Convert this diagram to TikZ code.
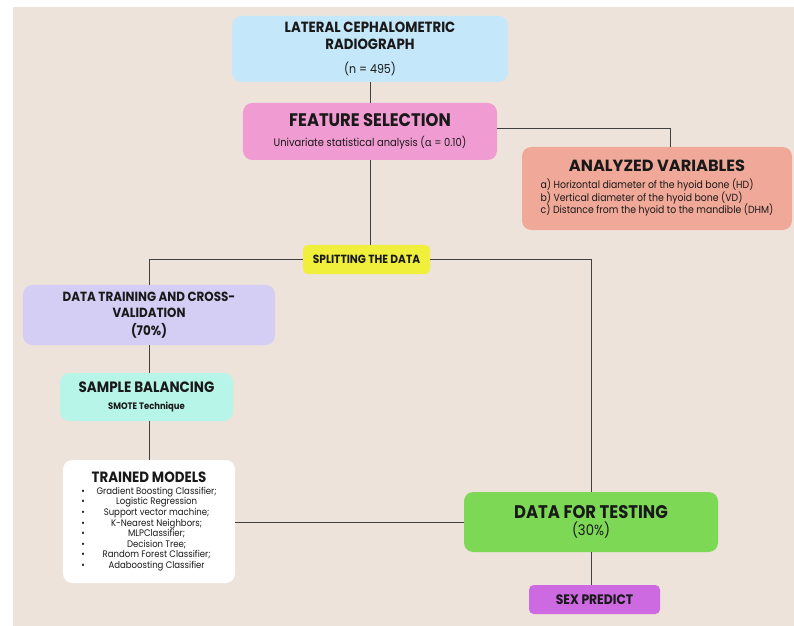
\documentclass[tikz,border=0pt]{standalone}
\usepackage{fontspec}
\setmainfont{Poppins}
\newfontfamily\condfont[FakeStretch=0.9]{Poppins}
\newfontfamily\greekfont{Noto Sans}
\usetikzlibrary{positioning,calc}
\definecolor{paper}{RGB}{237,227,218}
\definecolor{radio}{RGB}{197,231,250}
\definecolor{featpink}{RGB}{240,156,210}
\definecolor{varsalmon}{RGB}{240,168,152}
\definecolor{splityellow}{RGB}{240,240,60}
\definecolor{trainlav}{RGB}{212,206,245}
\definecolor{smotemint}{RGB}{183,245,232}
\definecolor{testgreen}{RGB}{125,216,85}
\definecolor{sexpurple}{RGB}{205,105,225}
% text sizes
\newcommand\headtxt[2]{{\fontsize{#1}{#1}\selectfont\bfseries #2}}
\newcommand\subtxt[2]{{\fontsize{#1}{#1}\selectfont #2}}

\begin{document}
\begin{tikzpicture}[x=0.03cm,y=-0.03cm,
    stage/.style={rounded corners=8pt,inner sep=2pt,align=center,text=black!90,font=\condfont},
    link/.style={draw=black!75,line width=0.6pt}
  ]
    % page
    \fill[white] (0,0) rectangle (794,626);
    \fill[paper] (13,7) rectangle (794,626);

    \node[stage,fill=radio,minimum width=8.28cm,minimum height=1.98cm] (lat) at (370,49)
      {\headtxt{12.6}{LATERAL CEPHALOMETRIC}\\[2pt]\headtxt{12.6}{RADIOGRAPH}\\[9pt]\subtxt{10.5}{(n = 495)}};
    \node[stage,fill=featpink,minimum width=7.62cm,minimum height=1.71cm] (feat) at (370,131.5)
      {\headtxt{15.5}{FEATURE SELECTION}\\[5pt]\subtxt{9.4}{Univariate statistical analysis ({\greekfont α} = 0.10)}};
    \node[stage,fill=varsalmon,minimum width=8.1cm,minimum height=2.49cm] (vars) at (657,188.5)
      {\headtxt{13.8}{\normalfont\bfseries ANALYZED VARIABLES}\\[5pt]
       \subtxt{8.85}{\begin{tabular}{@{}l@{}}
         a) Horizontal diameter of the hyoid bone (HD)\\
         b) Vertical diameter of the hyoid bone (VD)\\
         c) Distance from the hyoid to the mandible (DHM)
       \end{tabular}}};
    \node[stage,fill=splityellow,rounded corners=4pt,minimum width=3.81cm,minimum height=0.87cm] (split) at (366.5,259.5)
      {\headtxt{10.1}{SPLITTING THE DATA}};
    \node[stage,fill=trainlav,minimum width=7.56cm,minimum height=1.8cm] (train) at (149,315)
      {\headtxt{11.3}{DATA TRAINING AND CROSS-}\\[2pt]\headtxt{11.3}{VALIDATION}\\[3pt]\headtxt{11.3}{(70\%)}};
    \node[stage,fill=smotemint,minimum width=5.19cm,minimum height=1.44cm] (smote) at (146.5,397)
      {\headtxt{12.8}{SAMPLE BALANCING}\\[3pt]\subtxt{8}{\bfseries SMOTE Technique}};
    \node[stage,fill=white,minimum width=5.16cm,minimum height=3.69cm] (models) at (149,521.5)
      {\headtxt{12.7}{TRAINED MODELS}\\[3pt]
       {\fontsize{8.1}{9}\selectfont\begin{tabular}{@{}l@{\hspace{10pt}}c@{}}
         \textbullet & Gradient Boosting Classifier;\\
         \textbullet & Logistic Regression\\
         \textbullet & Support vector machine;\\
         \textbullet & K-Nearest Neighbors;\\
         \textbullet & MLPClassifier;\\
         \textbullet & Decision Tree;\\
         \textbullet & Random Forest Classifier;\\
         \textbullet & Adaboosting Classifier
       \end{tabular}}};
    \node[stage,fill=testgreen,minimum width=7.62cm,minimum height=1.8cm] (test) at (591,522)
      {\headtxt{15.6}{DATA FOR TESTING}\\[3pt]\subtxt{12.5}{(30\%)}};
    \node[stage,fill=sexpurple,rounded corners=4pt,minimum width=3.93cm,minimum height=0.87cm] (sex) at (594.5,599.5)
      {\headtxt{11.7}{SEX PREDICT}};

    % connectors
    \draw[link] (feat.east |- 0,128) -| (vars.north -| 670,0);
    \draw[link] (lat) -- (feat);
    \draw[link] (feat.south) -- (feat.south |- split.north);
    \draw[link] (split.west) -| (train.north);
    \draw[link] (split.east) -| (test.north);
    \draw[link] (train.south) -- (train.south |- smote.north);
    \draw[link] (smote.south -| train.south) -- (models.north -| train.south);
    \draw[link] (test.west -| models.east) -- (test.west);
    \draw[link] (test.south) -- (test.south |- sex.north);
  \end{tikzpicture}
\end{document}
